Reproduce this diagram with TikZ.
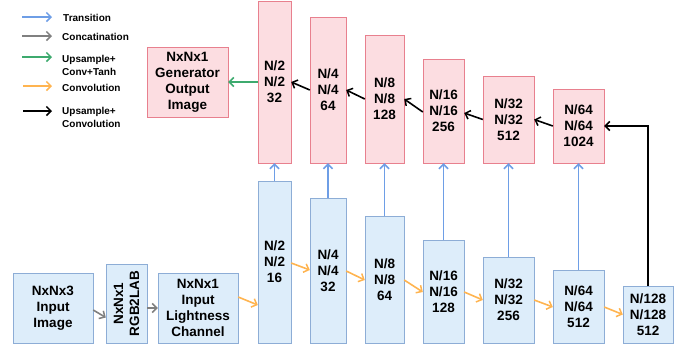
\documentclass[tikz,border=0pt]{standalone}
\usepackage{fontspec}
\setmainfont{Liberation Sans}
\usetikzlibrary{arrows.meta,calc}
\definecolor{pinkfill}{RGB}{252,221,225}
\definecolor{pinkline}{RGB}{232,128,142}
\definecolor{bluefill}{RGB}{221,237,250}
\definecolor{blueline}{RGB}{141,173,214}
\definecolor{arrblue}{RGB}{110,158,230}
\definecolor{arrgreen}{RGB}{61,170,110}
\definecolor{arrorange}{RGB}{255,180,80}
\definecolor{arrgray}{RGB}{128,128,128}
\tikzset{
  lbl/.style={font=\bfseries\fontsize{13.5}{16}\selectfont, align=center, text=black},
  legtxt/.style={font=\bfseries\fontsize{10}{13}\selectfont, align=left, anchor=west, inner sep=0pt},
  pinkbox/.style={draw=pinkline, fill=pinkfill, line width=1pt},
  bluebox/.style={draw=blueline, fill=bluefill, line width=1pt},
  arr/.style={line width=1.6pt, -{Straight Barb[length=4.5pt,width=9pt,line width=1.5pt]}},
  tarr/.style={arr, draw=arrblue},
  carr/.style={arr, draw=arrgray},
  garr/.style={arr, draw=arrgreen},
  oarr/.style={arr, draw=arrorange},
  karr/.style={arr, draw=black},
}
\newcommand{\pbox}[6]{% name, x1,y1,x2,y2, text
  \path[pinkbox] (#2,#3) rectangle (#4,#5);
  \node[lbl] (#1) at ({(#2+#4)/2},{(#3+#5)/2}) [minimum width={(#4-#2)*1pt}, minimum height={(#5-#3)*1pt}, inner sep=0pt] {#6};}
\newcommand{\bbox}[6]{%
  \path[bluebox] (#2,#3) rectangle (#4,#5);
  \node[lbl] (#1) at ({(#2+#4)/2},{(#3+#5)/2}) [minimum width={(#4-#2)*1pt}, minimum height={(#5-#3)*1pt}, inner sep=0pt] {#6};}
\begin{document}
\begin{tikzpicture}[x=1pt,y=-1pt]
\useasboundingbox (0,0) rectangle (692,351);
% legend
\coordinate (l1a) at (22,17); \coordinate (l1b) at (52,17);
\coordinate (l2a) at (22,36); \coordinate (l2b) at (52,36);
\coordinate (l3a) at (22,57); \coordinate (l3b) at (52,57);
\coordinate (l4a) at (23,86); \coordinate (l4b) at (52,86);
\coordinate (l5a) at (23,111); \coordinate (l5b) at (52,111);
\draw[tarr] (l1a) -- (l1b);
\draw[carr] (l2a) -- (l2b);
\draw[garr] (l3a) -- (l3b);
\draw[oarr] (l4a) -- (l4b);
\draw[karr] (l5a) -- (l5b);
\node[legtxt] (t1) at (63,18) {Transition};
\node[legtxt] (t2) at (62,37) {Concatination};
\node[legtxt] (t3) at (62,65) {Upsample+\\Conv+Tanh};
\node[legtxt] (t4) at (62,88) {Convolution};
\node[legtxt] (t5) at (62,117) {Upsample+\\Convolution};
% generator output
\pbox{gen}{147}{47}{228}{117}{NxNx1\\Generator\\Output\\Image}
% top row
\pbox{u2}{258}{1}{291}{163}{N/2\\N/2\\32}
\pbox{u4}{310}{17}{346}{163}{N/4\\N/4\\64}
\pbox{u8}{365}{35}{404}{163}{N/8\\N/8\\128}
\pbox{u16}{423}{59}{464}{163}{N/16\\N/16\\256}
\pbox{u32}{483}{76}{534}{163}{N/32\\N/32\\512}
\pbox{u64}{553}{89}{604}{163}{N/64\\N/64\\1024}
% bottom row
\bbox{d2}{258}{181}{291}{343}{N/2\\N/2\\16}
\bbox{d4}{310}{198}{346}{343}{N/4\\N/4\\32}
\bbox{d8}{365}{216}{404}{343}{N/8\\N/8\\64}
\bbox{d16}{423}{240}{464}{343}{N/16\\N/16\\128}
\bbox{d32}{483}{257}{534}{343}{N/32\\N/32\\256}
\bbox{d64}{553}{270}{604}{343}{N/64\\N/64\\512}
\bbox{d128}{623}{286}{673}{343}{N/128\\N/128\\512}
% input boxes
\bbox{inp}{13}{273}{93}{343}{NxNx3\\Input\\Image}
\bbox{rgb}{106}{264}{147}{343}{}
\node[lbl, rotate=90, inner sep=0pt] (rgbt) at (rgb.center) {NxNx1\\RGB2LAB};
\bbox{lig}{158}{273}{238}{343}{NxNx1\\Input\\Lightness\\Channel}
% gray arrows
\draw[carr] ([yshift=-2pt]inp.east) -- ([yshift=-14pt]rgb.west);
\draw[carr] ([yshift=-4.5pt]rgb.east) -- (lig.west);
% orange arrows
\draw[oarr] ([yshift=11pt]lig.east) -- ([yshift=-43pt]d2.west);
\draw[oarr] ([yshift=-1pt]d2.east) -- ([yshift=0.5pt]d4.west);
\draw[oarr] ([yshift=-0.5pt]d4.east) -- ([yshift=-0.5pt]d8.west);
\draw[oarr] ([yshift=-0.5pt]d8.east) -- ([yshift=-0.5pt]d16.west);
\draw[oarr] ([yshift=-0.5pt]d16.east) -- (d32.west);
\draw[oarr] (d32.east) -- ([yshift=-0.5pt]d64.west);
\draw[oarr] ([yshift=-0.5pt]d64.east) -- (d128.west);
% blue transitions
\draw[tarr] (d2.north) -- (u2.south);
\draw[tarr] (d4.north) -- (u4.south);
\draw[tarr] (d8.north) -- (u8.south);
\draw[tarr] (d16.north) -- (u16.south);
\draw[tarr] (d32.north) -- (u32.south);
\draw[tarr] (d64.north) -- (u64.south);
% black upsample
\draw[karr] (d128.north) |- (u64.east);
\draw[karr] (u64.west) -- (u32.east);
\draw[karr] (u32.west) -- ([yshift=-2pt]u16.east);
\draw[karr] ([yshift=-1pt]u16.west) -- (u8.east);
\draw[karr] (u8.west) -- (u4.east);
\draw[karr] (u4.west) -- (u2.east);
% green
\draw[garr] (u2.west) -- (gen.east);
\end{tikzpicture}
\end{document}
